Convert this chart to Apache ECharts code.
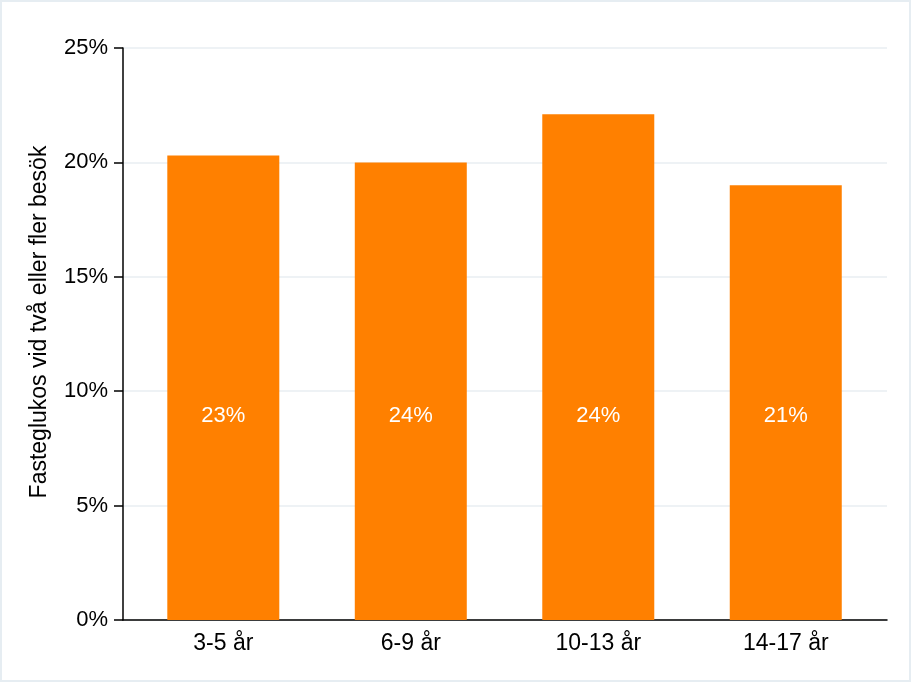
<!DOCTYPE html>
<html>
<head>
<meta charset="utf-8">
<script src="https://cdn.jsdelivr.net/npm/echarts@6/dist/echarts.min.js"></script>
<style>html,body{margin:0;padding:0;background:#fff}#c{width:911px;height:682px}</style>
</head>
<body>
<div id="c"></div>
<script>
var categories = ['3-5 år', '6-9 år', '10-13 år', '14-17 år'];
var barValues = [20.3, 20.0, 22.1, 19.0];
var barLabels = ['23%', '24%', '24%', '21%'];
var yTicks = [0, 5, 10, 15, 20, 25];
var yName = 'Fasteglukos vid två eller fler besök';

var font = '"Liberation Sans", Arial, sans-serif';
var chart = echarts.init(document.getElementById('c'), null, {renderer: 'canvas'});
chart.setOption({
  animation: false,
  backgroundColor: '#ffffff',
  graphic: [{
    type: 'rect', silent: true,
    shape: {x: 1, y: 1, width: 909, height: 680},
    style: {fill: 'none', stroke: '#e6edf2', lineWidth: 2}
  }],
  grid: {left: 123, right: 24, top: 48, bottom: 62, containLabel: false},
  xAxis: {
    type: 'value',
    min: -0.535, max: 3.54,
    axisLine: {show: true, onZero: false, lineStyle: {color: '#000', width: 1.5}},
    axisTick: {show: false},
    splitLine: {show: false},
    axisLabel: {
      customValues: categories.map(function (c, i) { return i; }),
      formatter: function (v) { return categories[Math.round(v)]; },
      color: '#000', fontSize: 23, fontFamily: font, margin: 12
    }
  },
  yAxis: {
    type: 'value',
    min: yTicks[0], max: yTicks[yTicks.length - 1], interval: 5,
    name: yName,
    nameLocation: 'middle',
    nameGap: 72,
    nameRotate: 90,
    nameTextStyle: {color: '#000', fontSize: 23, fontFamily: font, padding: [0, 0, 0, 24]},
    axisLine: {show: true, onZero: false, lineStyle: {color: '#000', width: 1.5}},
    axisTick: {show: true, length: 9, lineStyle: {color: '#000', width: 1.5}},
    axisLabel: {formatter: '{value}%', color: '#000', fontSize: 22, fontFamily: font, margin: 15},
    splitLine: {show: true, lineStyle: {color: '#e8eef2', width: 1.5}}
  },
  series: [{
    type: 'bar',
    barWidth: 112,
    data: barValues.map(function (v, i) { return [i, v]; }),
    itemStyle: {color: '#ff8000'},
    label: {
      show: true,
      position: 'insideBottom',
      distance: 193,
      formatter: function (p) { return barLabels[p.dataIndex]; },
      color: '#fff', fontSize: 22, fontFamily: font
    }
  }]
});
</script>
</body>
</html>
